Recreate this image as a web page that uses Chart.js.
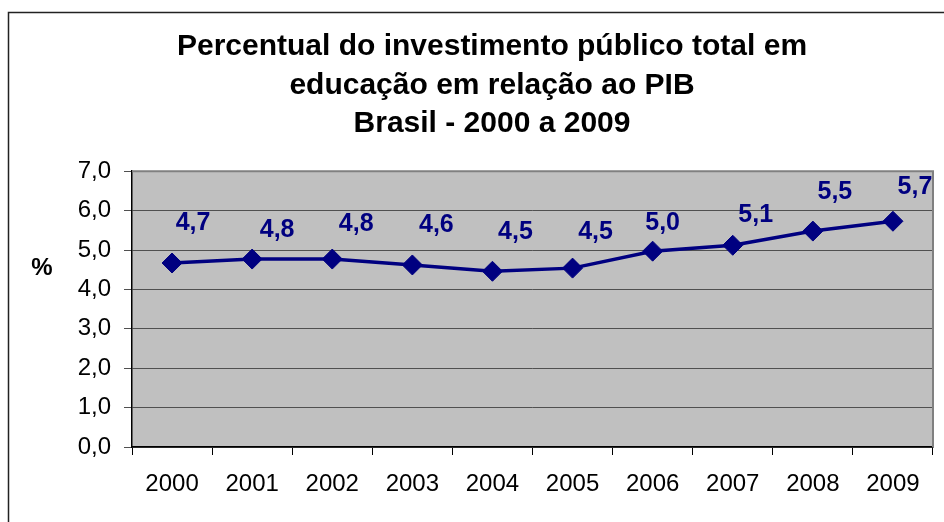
<!DOCTYPE html>
<html>
<head>
<meta charset="utf-8">
<title>Investimento público em educação</title>
<script src="https://cdn.jsdelivr.net/npm/chart.js@4.4.1/dist/chart.umd.min.js"></script>
<style>
  body { margin: 0; background: #fff; }
  #wrap { width: 944px; height: 522px; position: relative; }
</style>
</head>
<body>
<div id="wrap"><canvas id="chart"></canvas></div>
<script>
// ---------- data ----------
const years = ["2000","2001","2002","2003","2004","2005","2006","2007","2008","2009"];
const percent = [4.67, 4.77, 4.77, 4.62, 4.46, 4.54, 4.97, 5.12, 5.48, 5.73];
const titleLines = [
  "Percentual do investimento público total em",
  "educação em relação ao PIB",
  "Brasil - 2000 a 2009"
];
const yLabel = "%";

// label nudges (px) relative to each point, as placed in the original
const labelNudge = [[21,-40],[25,-29],[24,-35],[24,-40],[23,-39],[23,-36],[10,-28],[23,-30],[22,-39],[22,-34]];

const navy = "#000080";
const fmt = v => v.toFixed(1).replace(".", ",");

// ---------- plugins ----------
const frame = {
  id: "frame",
  beforeDraw(chart) {
    const {ctx, chartArea: a} = chart;
    ctx.save();
    ctx.fillStyle = "#fff";
    ctx.fillRect(0, 0, chart.width, chart.height);
    ctx.strokeStyle = "#222";
    ctx.lineWidth = 1.5;
    ctx.strokeRect(8.5, 12.5, 2000, 2000);
    ctx.fillStyle = "#c0c0c0";
    ctx.fillRect(a.left, a.top, a.right - a.left, a.bottom - a.top);
    ctx.restore();
  },
  beforeDatasetsDraw(chart) {
    const {ctx, chartArea: a} = chart;
    ctx.save();
    ctx.strokeStyle = "#808080";
    ctx.lineWidth = 2;
    ctx.beginPath();
    ctx.moveTo(a.left, a.top);
    ctx.lineTo(a.right, a.top);
    ctx.lineTo(a.right, a.bottom);
    ctx.stroke();
    ctx.restore();
  },
  afterDatasetsDraw(chart) {
    const {ctx, chartArea: a} = chart;
    const meta = chart.getDatasetMeta(0);
    ctx.save();
    ctx.font = "bold 25px 'Liberation Sans', Arial, sans-serif";
    ctx.fillStyle = navy;
    ctx.textAlign = "center";
    ctx.textBaseline = "middle";
    meta.data.forEach((pt, i) => {
      const n = labelNudge[i];
      ctx.fillText(fmt(percent[i]), pt.x + n[0], pt.y + n[1]);
    });
    // axis title, horizontal
    ctx.fillStyle = "#000";
    ctx.font = "bold 24px 'Liberation Sans', Arial, sans-serif";
    ctx.fillText(yLabel, a.left - 90, a.top + 97);
    ctx.restore();
  }
};

// ---------- chart ----------
new Chart(document.getElementById("chart"), {
  type: "line",
  data: {
    labels: years,
    datasets: [{
      data: percent,
      borderColor: navy,
      backgroundColor: navy,
      borderWidth: 3.5,
      pointStyle: "rectRot",
      pointRadius: 10,
      pointBorderWidth: 1,
      pointBackgroundColor: navy,
      pointBorderColor: navy,
      tension: 0
    }]
  },
  options: {
    animation: false,
    responsive: true,
    maintainAspectRatio: false,
    layout: { padding: { left: 48, right: 8, top: 0, bottom: 0 } },
    plugins: {
      legend: { display: false },
      tooltip: { enabled: false },
      title: {
        display: true,
        text: titleLines,
        color: "#000",
        font: { family: "'Liberation Sans', Arial, sans-serif", size: 30, weight: "bold", lineHeight: 1.28 },
        padding: { top: 28, bottom: 28 }
      }
    },
    scales: {
      x: {
        offset: true,
        afterFit: s => { s.height = 75; },
        grid: { offset: true, drawOnChartArea: false, drawTicks: true, tickLength: 8, color: "#000" },
        border: { display: true, color: "#000", width: 1.5 },
        ticks: {
          color: "#000",
          padding: 15,
          maxRotation: 0,
          font: { family: "'Liberation Sans', Arial, sans-serif", size: 24 }
        }
      },
      y: {
        min: 0,
        max: 7,
        afterFit: s => { s.width = 84; },
        grid: { color: "#505050", lineWidth: 1, tickLength: 8 },
        border: { display: true, color: "#000", width: 1.5 },
        ticks: {
          stepSize: 1,
          color: "#000",
          padding: 13,
          font: { family: "'Liberation Sans', Arial, sans-serif", size: 24 },
          callback: v => fmt(v)
        }
      }
    }
  },
  plugins: [frame]
});
</script>
</body>
</html>
